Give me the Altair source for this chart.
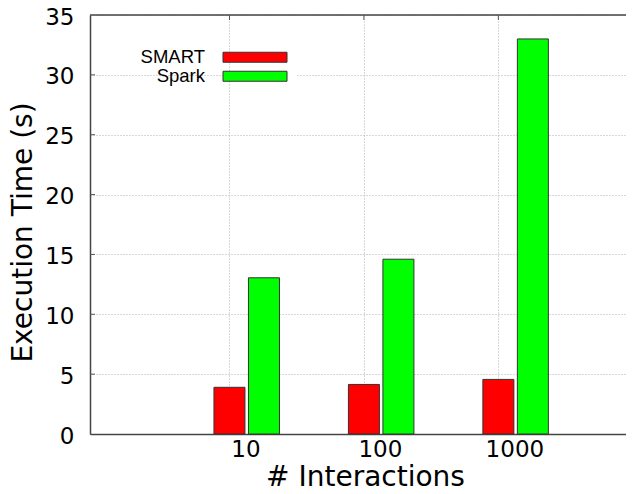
import json
import altair as alt
import pandas as pd

categories = ["10", "100", "1000"]
series_names = ["SMART", "Spark"]
smart_times = [3.9, 4.14, 4.56]
spark_times = [13.05, 14.6, 33.0]
y_ticks = [0, 5, 10, 15, 20, 25, 30, 35]
colors = ["#ff0000", "#00ff00"]

positions = [i + 1 for i in range(len(categories))]
df_smart = pd.DataFrame({"pos": positions, "cat": categories, "series": "SMART", "time": smart_times})
df_spark = pd.DataFrame({"pos": positions, "cat": categories, "series": "Spark", "time": spark_times})
df_yt = pd.DataFrame({"v": y_ticks[1:-1]})
df_xt = pd.DataFrame({"pos": positions})

W, H = 536, 419
label_expr = json.dumps(categories) + "[datum.value - 1]"

xscale = alt.Scale(domain=[0, 3.912], nice=False, zero=False)
yscale = alt.Scale(domain=[0, 35], nice=False)
cscale = alt.Scale(domain=series_names, range=colors)

x_axis = alt.Axis(values=positions, labelExpr=label_expr, title="# Interactions",
                  grid=True, ticks=False, labelPadding=4, labelOffset=16,
                  titleBaseline="alphabetic", titleY=51, titleX=275,
                  domainColor="#444", domainWidth=1.5)
y_axis = alt.Axis(values=y_ticks, title="Execution Time (s)", grid=True, ticks=False,
                  labelPadding=16, labelOffset=2,
                  titleBaseline="alphabetic", titleX=-58.5, titleY=217,
                  titleAngle=270, titleAlign="center",
                  domainColor="#444", domainWidth=1.5)

legend = alt.Legend(orient="none", legendX=149.75, legendY=27, title=None,
                    labelAlign="right", labelOffset={"expr": "-59.25"},
                    symbolType="M-6.4,-1H6.4V1H-6.4Z", symbolSize=100,
                    symbolStrokeColor="#333", symbolStrokeWidth=1,
                    labelFont="Liberation Sans", labelFontSize=18.5, labelColor="#000",
                    rowPadding=0, padding=6, fillColor="white")

bar_smart = alt.Chart(df_smart).mark_bar(size=31, stroke="#333", strokeWidth=1).encode(
    x=alt.X("pos:Q", scale=xscale, axis=x_axis),
    y=alt.Y("time:Q", scale=yscale, axis=y_axis),
    color=alt.Color("series:N", scale=cscale, legend=legend),
)
bar_spark = alt.Chart(df_spark).mark_bar(size=31, stroke="#333", strokeWidth=1, xOffset=34.5).encode(
    x=alt.X("pos:Q", scale=xscale),
    y=alt.Y("time:Q", scale=yscale),
    color=alt.Color("series:N", scale=cscale, legend=legend),
)
top_border = alt.Chart(pd.DataFrame({"v": [35]})).mark_rule(color="#444", strokeWidth=1.5).encode(
    y=alt.Y("v:Q", scale=yscale)
)
left_ticks = alt.Chart(df_yt).mark_rule(color="#555", strokeWidth=1).encode(
    y=alt.Y("v:Q", scale=yscale), x=alt.value(0), x2=alt.value(5)
)
top_ticks = alt.Chart(df_xt).mark_rule(color="#555", strokeWidth=1).encode(
    x=alt.X("pos:Q", scale=xscale), y=alt.value(0), y2=alt.value(5)
)

chart = alt.layer(bar_smart, bar_spark, top_border, left_ticks, top_ticks).properties(
    width=W, height=H,
    autosize=alt.AutoSizeParams(type="none"),
    padding={"left": 82, "top": 7, "right": 0, "bottom": 52},
).configure_view(stroke=None).configure_axis(
    labelFont="DejaVu Sans", labelFontSize=23, labelColor="#000",
    titleFont="DejaVu Sans", titleFontSize=28, titleFontWeight="normal", titleColor="#000",
    gridColor="#b0b0b0", gridDash=[1, 2], gridWidth=1,
)

chart.save("out.html", embed_options={"renderer": "svg", "actions": False})
